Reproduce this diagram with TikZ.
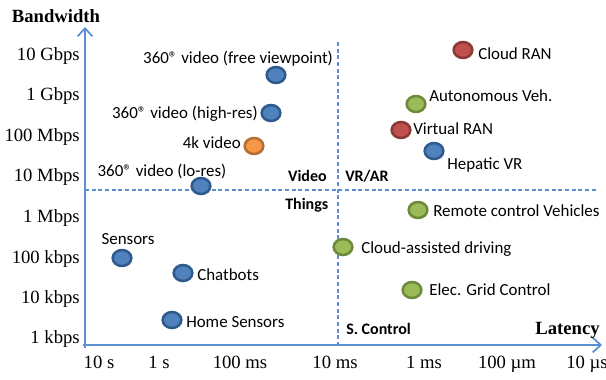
\documentclass[tikz,border=0pt]{standalone}
\usepackage{fontspec}
\setmainfont{Liberation Serif}
\newfontfamily\calibri{Carlito}
\usepackage{xcolor}
\usetikzlibrary{arrows.meta,positioning,shapes.geometric}
\definecolor{axisblue}{HTML}{5B8ED3}
\definecolor{dotblue}{HTML}{4F81BD}
\definecolor{dotblueline}{HTML}{2F5A8E}
\definecolor{dotred}{HTML}{C0504D}
\definecolor{dotredline}{HTML}{8C3836}
\definecolor{dotgreen}{HTML}{9BBB59}
\definecolor{dotgreenline}{HTML}{6B8A3A}
\definecolor{dotorange}{HTML}{F79646}
\definecolor{dotorangeline}{HTML}{B66D31}
\tikzset{
  appdot/.style={ellipse,line width=1.9pt,minimum width=14pt,minimum height=12pt,inner sep=0pt},
  bluedot/.style={appdot,draw=dotblueline,fill=dotblue},
  reddot/.style={appdot,draw=dotredline,fill=dotred},
  greendot/.style={appdot,draw=dotgreenline,fill=dotgreen},
  orangedot/.style={appdot,draw=dotorangeline,fill=dotorange},
  applabel/.style={font=\calibri\fontsize{12.7}{14}\selectfont,inner sep=0pt,
                   text height=1em,text depth=0.1em},
  zonelabel/.style={font=\calibri\bfseries\fontsize{12}{14}\selectfont,inner sep=0pt,
                    text height=1em,text depth=0.1em},
  ticklabel/.style={font=\fontsize{14}{16}\selectfont,inner sep=0pt,
                    text height=1em,text depth=0.1em},
  axistitle/.style={font=\bfseries\fontsize{14}{16}\selectfont,inner sep=0pt,
                    text height=1em,text depth=0.1em},
  axisarr/.style={-{Straight Barb[length=6pt,width=11pt,line width=1.3pt]},line width=1.5pt,color=axisblue},
  zoneline/.style={dashed,dash pattern=on 3pt off 2pt,line width=0.9pt,color=axisblue}
}

\begin{document}
\begin{tikzpicture}[x=0.75pt,y=-0.75pt]
  \useasboundingbox (0,0) rectangle (606,379);
  % axes
  \coordinate (origin) at (85,348);
  \coordinate (ytop) at (85,27);
  \coordinate (xleft) at (83,345);
  \coordinate (xright) at (602,345);
  \draw[axisarr] (origin) -- (ytop);
  \draw[axisarr] (xleft) -- (xright);
  \node[axistitle] (bwtitle) at (56,16) {Bandwidth};
  \node[axistitle,anchor=east] (lattitle) at (600,328) {Latency};
  % zone lines
  \coordinate (vtop) at (338,42);
  \coordinate (vbot) at (338,345);
  \coordinate (hleft) at (85,190);
  \coordinate (hright) at (596,190);
  \draw[zoneline] (vtop) -- (vbot);
  \draw[zoneline] (hleft) -- (hright);
  \node[zonelabel,anchor=east] (video) at (327,175) {Video};
  \node[zonelabel,anchor=west] (vrar) at (345,175) {VR/AR};
  \node[zonelabel,anchor=west] (things) at (285,203) {Things};
  \node[zonelabel,anchor=west] (scontrol) at (346,328) {S. Control};
  % bandwidth ticks
  \node[ticklabel,anchor=east] (bw10g) at (80,54) {10 Gbps};
  \node[ticklabel,anchor=east] (bw1g) at (80,94) {1 Gbps};
  \node[ticklabel,anchor=east] (bw100m) at (80,135) {100 Mbps};
  \node[ticklabel,anchor=east] (bw10m) at (80,175) {10 Mbps};
  \node[ticklabel,anchor=east] (bw1m) at (80,216) {1 Mbps};
  \node[ticklabel,anchor=east] (bw100k) at (80,257) {100 kbps};
  \node[ticklabel,anchor=east] (bw10k) at (80,297) {10 kbps};
  \node[ticklabel,anchor=east] (bw1k) at (80,337) {1 kbps};
  % latency ticks
  \node[ticklabel] (lat10s) at (99,362) {10 s};
  \node[ticklabel] (lat1s) at (159,362) {1 s};
  \node[ticklabel] (lat100ms) at (240,362) {100 ms};
  \node[ticklabel] (lat10ms) at (335,362) {10 ms};
  \node[ticklabel] (lat1ms) at (424,362) {1 ms};
  \node[ticklabel] (lat100us) at (507,362) {100 µm};
  \node[ticklabel] (lat10us) at (587,362) {10 µs};
  % video applications
  \node[bluedot] (freeview) at (276,75) {};
  \node[applabel] (freeviewlbl) at (238,57) {360® video (free viewpoint)};
  \node[bluedot] (highres) at (271,113) {};
  \node[applabel,anchor=east] (highreslbl) at (258,112) {360® video (high-res)};
  \node[orangedot] (fourk) at (254,146) {};
  \node[applabel,anchor=east] (fourklbl) at (241,142) {4k video};
  \node[bluedot] (lores) at (201,186) {};
  \node[applabel] (loreslbl) at (162,170) {360® video (lo-res)};
  % vr/ar applications
  \node[reddot] (cloudran) at (463,50) {};
  \node[applabel,anchor=west] (cloudranlbl) at (478,53) {Cloud RAN};
  \node[greendot] (autoveh) at (416,104) {};
  \node[applabel,anchor=west] (autovehlbl) at (429,95) {Autonomous Veh.};
  \node[reddot] (virtran) at (401,130) {};
  \node[applabel,anchor=west] (virtranlbl) at (413,128) {Virtual RAN};
  \node[bluedot] (hepatic) at (434,151) {};
  \node[applabel,anchor=west] (hepaticlbl) at (447,163) {Hepatic VR};
  % control applications
  \node[greendot] (remote) at (418,210) {};
  \node[applabel,anchor=west] (remotelbl) at (433,210) {Remote control Vehicles};
  \node[greendot] (cloudassist) at (343,247) {};
  \node[applabel,anchor=west] (cloudassistlbl) at (361,247) {Cloud-assisted driving};
  \node[greendot] (grid) at (412,290) {};
  \node[applabel,anchor=west] (gridlbl) at (429,289) {Elec. Grid Control};
  % things applications
  \node[bluedot] (sensors) at (122,258) {};
  \node[applabel] (sensorslbl) at (128,238) {Sensors};
  \node[bluedot] (chatbots) at (183,273) {};
  \node[applabel,anchor=west] (chatbotslbl) at (197,274) {Chatbots};
  \node[bluedot] (homesens) at (172,320) {};
  \node[applabel,anchor=west] (homesenslbl) at (186,321) {Home Sensors};
\end{tikzpicture}
\end{document}
